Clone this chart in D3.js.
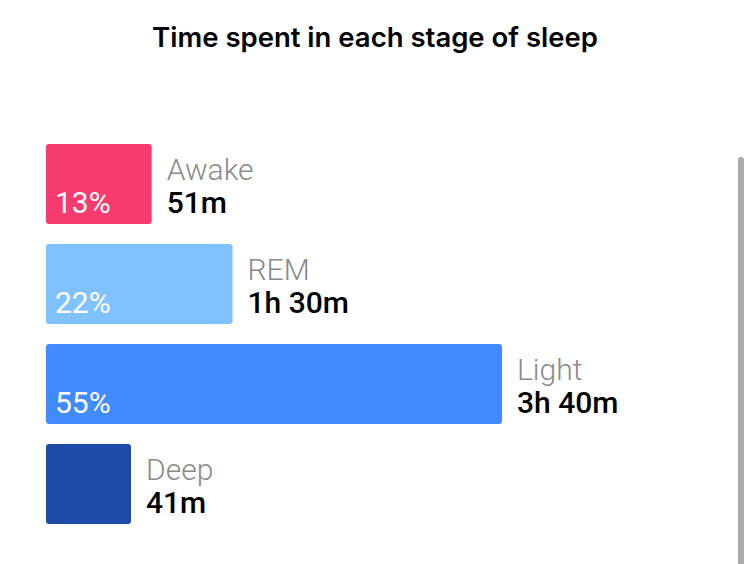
<!DOCTYPE html>
<html>
<head>
<meta charset="utf-8">
<script src="https://cdn.jsdelivr.net/npm/d3@7"></script>
<style>
  html, body { margin: 0; padding: 0; background: #fff; overflow: hidden; }
  svg { display: block; }
</style>
</head>
<body>
<svg id="chart" width="750" height="564"></svg>
<script>
const stages = ["Awake", "REM", "Light", "Deep"];
const minutes = [51, 90, 220, 41];
const durationLabels = ["51m", "1h 30m", "3h 40m", "41m"];
const percents = [13, 22, 55, 10];
const colors = ["#F73B6E", "#80C2FF", "#428BFF", "#1F4BA8"];
const title = "Time spent in each stage of sleep";

const data = stages.map((s, i) => ({ stage: s, min: minutes[i], dur: durationLabels[i], pct: percents[i], color: colors[i] }));

const svg = d3.select("#chart");

svg.append("text")
  .attr("x", 375).attr("y", 47)
  .attr("text-anchor", "middle")
  .attr("font-family", "Inter, 'Noto Sans', sans-serif")
  .attr("font-weight", 600)
  .attr("font-size", 27.5)
  .attr("fill", "#000")
  .text(title);

const x = d3.scaleLinear().domain([0, d3.max(minutes)]).range([0, 456]);
const y = d3.scaleBand().domain(stages).range([144, 524]).paddingInner(0.2).paddingOuter(0);
const x0 = 46;

const rows = svg.append("g").selectAll("g.row").data(data).join("g").attr("class", "row");

rows.append("rect")
  .attr("x", x0)
  .attr("y", d => y(d.stage))
  .attr("width", d => x(d.min))
  .attr("height", y.bandwidth())
  .attr("rx", 3).attr("ry", 3)
  .attr("fill", d => d.color);

rows.filter(d => x(d.min) > 100).append("text")
  .attr("x", x0 + 9)
  .attr("y", d => y(d.stage) + 69)
  .attr("font-family", "Roboto, sans-serif")
  .attr("font-weight", 400)
  .attr("font-size", 30)
  .attr("fill", "#fff")
  .text(d => d.pct + "%");

rows.append("text")
  .attr("x", d => x0 + x(d.min) + 15)
  .attr("y", d => y(d.stage) + 36)
  .attr("font-family", "Roboto, sans-serif")
  .attr("font-weight", 300)
  .attr("font-size", 30)
  .attr("fill", "#8a8a8a")
  .text(d => d.stage);

rows.append("text")
  .attr("x", d => x0 + x(d.min) + 15)
  .attr("y", d => y(d.stage) + 69)
  .attr("font-family", "Roboto, sans-serif")
  .attr("font-weight", 500)
  .attr("font-size", 30)
  .attr("fill", "#000")
  .text(d => d.dur);

// scrollbar
svg.append("rect")
  .attr("x", 738).attr("y", 157)
  .attr("width", 6).attr("height", 420)
  .attr("rx", 3)
  .attr("fill", "#aaaaaa");
</script>
</body>
</html>
